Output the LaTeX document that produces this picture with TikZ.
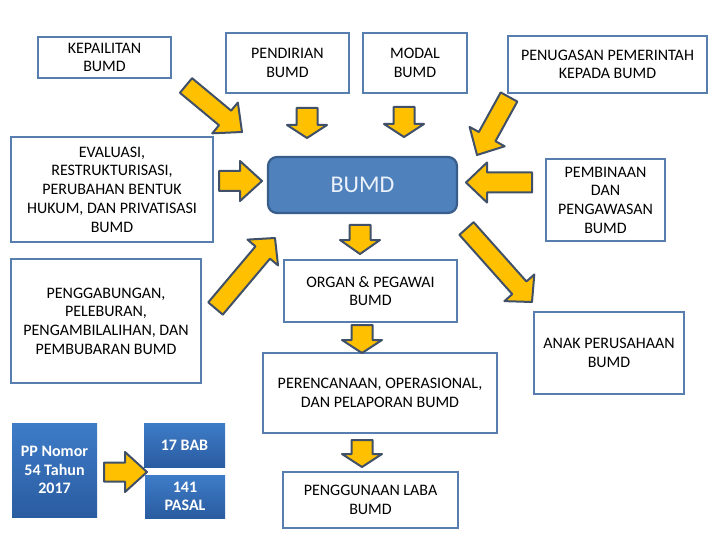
\documentclass[tikz,border=0pt]{standalone}
\usepackage{fontspec}
\setmainfont{Carlito}
\usetikzlibrary{calc}
\definecolor{boxline}{RGB}{88,125,175}
\definecolor{arrfill}{RGB}{255,192,0}
\definecolor{arrline}{RGB}{64,80,104}
\definecolor{bumdfill}{RGB}{79,129,189}
\definecolor{bumdline}{RGB}{56,93,138}
\definecolor{bumdtext}{RGB}{235,242,250}
\definecolor{gradtop}{RGB}{62,124,200}
\definecolor{gradbot}{RGB}{42,92,160}
\tikzset{
  box/.style={draw=boxline, line width=2.2pt, fill=white, align=center, inner sep=2pt,
    font=\fontsize{16}{18.7}\selectfont},
  bluebox/.style={top color=gradtop, bottom color=gradbot, align=center, inner sep=2pt,
    text=white, font=\fontsize{16}{18.7}\selectfont\bfseries},
  blockarrow/.style={draw=arrline, fill=arrfill, line width=2pt, line join=round}
}
\newcommand\barrow[5]{%
  \coordinate (bh) at ($(#2)!#5!(#1)$);
  \draw[blockarrow] ($(#1)!#3!90:(#2)$) -- ($(bh)!#3!90:(#2)$) -- ($(bh)!#4!90:(#2)$)
    -- (#2) -- ($(bh)!#4!-90:(#2)$) -- ($(bh)!#3!-90:(#2)$) -- ($(#1)!#3!-90:(#2)$) -- cycle;}
\begin{document}
\begin{tikzpicture}[x=1pt,y=-1pt]
\useasboundingbox[fill=white] (0,0) rectangle (720,540);
% boxes
\node[box, minimum width=133pt, minimum height=41pt] (kep) at (104.5,57.5) {KEPAILITAN\\BUMD};
\node[box, minimum width=123pt, minimum height=60pt] (pend) at (287.5,63) {PENDIRIAN\\BUMD};
\node[box, minimum width=104pt, minimum height=60pt] (modal) at (415,63) {MODAL\\BUMD};
\node[box, minimum width=199pt, minimum height=57pt] (penug) at (607.5,64.5) {PENUGASAN PEMERINTAH\\KEPADA BUMD};
\node[box, minimum width=202pt, minimum height=105pt] (eval) at (112,189.5) {EVALUASI,\\RESTRUKTURISASI,\\PERUBAHAN BENTUK\\HUKUM, DAN PRIVATISASI\\BUMD};
\node[draw=bumdline, fill=bumdfill, line width=2.2pt, rounded corners=9pt, minimum width=189pt, minimum height=56pt,
  text=bumdtext, font=\fontsize{24}{28}\selectfont] (bumd) at (362.5,185) {BUMD};
\node[box, minimum width=119pt, minimum height=82pt] (pemb) at (605.5,200) {PEMBINAAN\\DAN\\PENGAWASAN\\BUMD};
\node[box, minimum width=190pt, minimum height=124pt] (peng) at (106,321) {PENGGABUNGAN,\\PELEBURAN,\\PENGAMBILALIHAN, DAN\\PEMBUBARAN BUMD};
\node[box, minimum width=173pt, minimum height=62pt] (organ) at (370.5,291) {ORGAN \& PEGAWAI\\BUMD};
\node[box, minimum width=234pt, minimum height=80pt] (peren) at (380,393) {PERENCANAAN, OPERASIONAL,\\DAN PELAPORAN BUMD};
\node[box, minimum width=175pt, minimum height=56pt] (pengg) at (370.5,500) {PENGGUNAAN LABA\\BUMD};
\node[box, minimum width=150pt, minimum height=82pt] (anak) at (609,353) {ANAK PERUSAHAAN\\BUMD};
\node[bluebox, minimum width=85pt, minimum height=94pt] (pp) at (54.5,470) {PP Nomor\\54 Tahun\\2017};
\node[bluebox, minimum width=81pt, minimum height=44pt] (bab) at (184.5,445) {17 BAB};
\node[bluebox, minimum width=80pt, minimum height=43pt] (pasal) at (185,496.5) {141\\PASAL};
% arrow end points
\coordinate (a1t) at (186,85.5);  \coordinate (a1h) at (242,132);
\coordinate (a2t) at (307,108);   \coordinate (a2h) at (307,138);
\coordinate (a3t) at (404,107);   \coordinate (a3h) at (404,137);
\coordinate (a4t) at (509,97);    \coordinate (a4h) at (477,155);
\coordinate (a5t) at (532,182.5); \coordinate (a5h) at (466,182.5);
\coordinate (a6t) at (219,181);   \coordinate (a6h) at (262,181);
\coordinate (a7t) at (360,225);   \coordinate (a7h) at (360,254);
\coordinate (a8t) at (215.5,308.5); \coordinate (a8h) at (275,238);
\coordinate (a9t) at (466.5,228.5); \coordinate (a9h) at (532,302);
\coordinate (a10t) at (362,325);  \coordinate (a10h) at (362,353);
\coordinate (a11t) at (362,440);  \coordinate (a11h) at (362,467);
\coordinate (a12t) at (104,472);  \coordinate (a12h) at (147,472);
% arrows
\barrow{a1t}{a1h}{9.5pt}{20pt}{22pt}
\barrow{a2t}{a2h}{10.5pt}{20pt}{13pt}
\barrow{a3t}{a3h}{10.5pt}{20pt}{13pt}
\barrow{a4t}{a4h}{9.5pt}{20pt}{21pt}
\barrow{a5t}{a5h}{10pt}{20pt}{21pt}
\barrow{a6t}{a6h}{10pt}{20pt}{22pt}
\barrow{a7t}{a7h}{10.5pt}{20pt}{14pt}
\barrow{a8t}{a8h}{9.5pt}{20pt}{19pt}
\barrow{a9t}{a9h}{9.5pt}{20pt}{19pt}
\barrow{a10t}{a10h}{10.5pt}{20pt}{13pt}
\barrow{a11t}{a11h}{10.5pt}{20pt}{13pt}
\barrow{a12t}{a12h}{9.5pt}{20pt}{22pt}
\end{tikzpicture}
\end{document}
